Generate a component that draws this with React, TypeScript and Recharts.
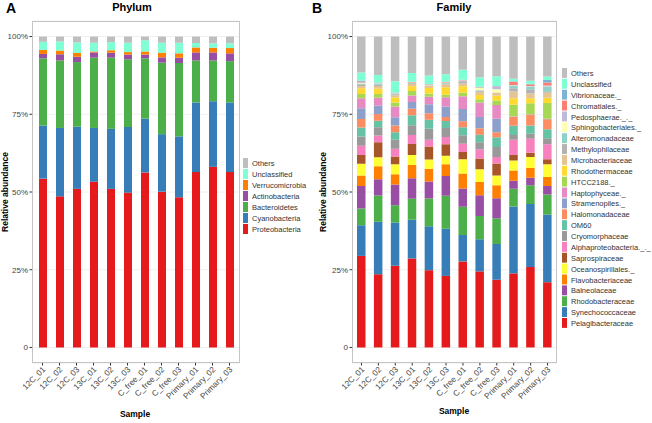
import React from 'react';
import { BarChart, Bar, XAxis, YAxis, CartesianGrid } from 'recharts';

const FONT = '"Liberation Sans", Arial, sans-serif';
const H = 423;

const samples = ['12C_01', '12C_02', '12C_03', '13C_01', '13C_02', '13C_03', 'C_free_01', 'C_free_02', 'C_free_03', 'Primary_01', 'Primary_02', 'Primary_03'];

// ---- Phylum (panel A), values in %
const proteobacteria = [54.3, 48.6, 51.0, 53.3, 51.0, 49.8, 56.3, 50.1, 48.3, 56.4, 58.1, 56.4];
const cyanobacteria = [17.1, 22.0, 20.0, 17.3, 19.3, 21.1, 17.3, 18.5, 19.6, 22.4, 21.1, 22.4];
const bacteroidetes = [21.6, 21.7, 20.8, 22.6, 22.9, 21.8, 19.4, 23.0, 23.6, 13.5, 13.1, 13.3];
const actinobacteria = [1.4, 2.0, 1.7, 1.7, 1.6, 1.5, 1.2, 1.7, 1.7, 2.6, 2.6, 2.5];
const verrucomicrobia = [1.3, 1.2, 1.2, 0.3, 0.8, 0.8, 1.0, 1.5, 1.4, 1.6, 1.5, 1.7];
const phylumUnclassified = [2.6, 2.9, 3.4, 2.8, 2.6, 3.0, 3.6, 3.2, 3.4, 1.4, 1.4, 1.5];
const phylumOthers = [1.7, 1.6, 1.9, 2.0, 1.8, 2.0, 1.2, 2.0, 2.0, 2.1, 2.2, 2.2];

const phylumNames = ['Proteobacteria', 'Cyanobacteria', 'Bacteroidetes', 'Actinobacteria', 'Verrucomicrobia', 'Unclassified', 'Others'];
const phylumColors = ['#E41A1C', '#377EB8', '#4DAF4A', '#984EA3', '#FF7F00', '#7FFFD4', '#BEBEBE'];
const phylumSeries = [proteobacteria, cyanobacteria, bacteroidetes, actinobacteria, verrucomicrobia, phylumUnclassified, phylumOthers];

// ---- Family (panel B), values in %
const pelagibacteraceae = [29.5, 23.6, 26.3, 28.7, 24.8, 23.1, 27.7, 24.5, 21.8, 23.9, 25.9, 20.9];
const synechococcaceae = [9.9, 16.9, 13.9, 12.5, 14.1, 15.2, 8.5, 10.3, 11.5, 21.6, 20.3, 21.7];
const rhodobacteraceae = [5.4, 8.5, 5.6, 6.8, 8.9, 10.7, 9.1, 7.5, 8.3, 5.7, 6.0, 6.4];
const balneolaceae = [7.2, 5.2, 6.7, 6.6, 5.5, 6.4, 5.9, 6.7, 6.4, 2.6, 2.4, 2.7];
const flavobacteriaceae = [3.4, 4.2, 3.3, 4.3, 4.1, 3.8, 4.8, 4.3, 4.2, 3.3, 3.2, 2.9];
const oceanospirillales = [3.8, 2.9, 3.2, 3.2, 2.9, 2.7, 4.6, 4.1, 3.2, 3.2, 3.5, 4.1];
const saprospiraceae = [2.8, 4.8, 2.5, 3.5, 4.2, 3.7, 2.3, 3.4, 3.8, 1.8, 1.4, 1.6];
const alphaproteobacteria = [3.0, 2.2, 2.5, 2.9, 2.2, 2.4, 2.7, 3.0, 2.1, 4.9, 4.5, 4.8];
const cryomorphaceae = [3.0, 2.7, 2.9, 3.2, 3.5, 2.9, 2.7, 2.3, 3.2, 1.5, 1.6, 1.9];
const om60 = [2.9, 2.1, 2.4, 3.2, 2.9, 2.2, 2.6, 2.4, 3.2, 3.0, 2.7, 2.9];
const halomonadaceae = [2.7, 2.1, 2.2, 2.1, 2.1, 1.3, 1.9, 2.1, 1.6, 2.9, 3.4, 3.2];
const stramenopiles = [3.5, 2.8, 2.6, 2.2, 2.9, 3.4, 4.0, 3.6, 4.3, 0.1, 0.1, 0.1];
const haptophyceae = [3.2, 2.5, 3.5, 2.1, 2.4, 3.0, 4.1, 4.7, 4.5, 0.1, 0.1, 0.1];
const htcc2188 = [1.4, 1.2, 1.3, 1.4, 1.0, 0.8, 1.1, 1.0, 1.4, 3.7, 3.5, 5.0];
const rhodothermaceae = [1.8, 1.7, 1.6, 1.6, 1.8, 2.4, 2.1, 1.4, 1.5, 2.1, 1.6, 1.7];
const microbacteriaceae = [0.8, 0.9, 0.7, 0.7, 0.6, 0.9, 0.9, 1.0, 0.9, 2.2, 1.6, 1.6];
const methylophilaceae = [0.5, 0.4, 0.3, 0.2, 0.2, 0.3, 0.7, 0.3, 0.1, 1.0, 1.3, 0.5];
const alteromonadaceae = [0.3, 0.3, 0.2, 0.1, 0.1, 0.2, 0.1, 0.2, 0.1, 0.9, 0.8, 1.4];
const sphingobacteriales = [0.1, 0.1, 0.1, 0.1, 0.1, 0.1, 0.1, 0.8, 1.0, 0.1, 0.1, 0.1];
const pedosphaerae = [0.3, 0.1, 0.1, 0.1, 0.1, 0.1, 0.1, 0.1, 0.9, 0.1, 0.2, 0.3];
const chromatiales = [0.2, 0.1, 0.1, 0.1, 0.1, 0.1, 0.1, 0.1, 0.1, 1.0, 0.5, 1.0];
const vibrionaceae = [0.3, 0.1, 0.1, 0.1, 0.1, 0.1, 0.1, 0.1, 0.1, 0.2, 0.2, 0.8];
const familyUnclassified = [2.6, 2.4, 3.6, 2.8, 2.7, 2.4, 3.2, 3.1, 3.1, 0.8, 1.0, 1.1];
const familyOthers = [11.6, 12.4, 14.4, 11.8, 12.5, 12.2, 10.7, 13.1, 12.8, 13.6, 14.2, 12.8];

const familyNames = [
  'Pelagibacteraceae', 'Synechococcaceae', 'Rhodobacteraceae', 'Balneolaceae', 'Flavobacteriaceae',
  'Oceanospirillales._', 'Saprospiraceae', 'Alphaproteobacteria._._', 'Cryomorphaceae', 'OM60',
  'Halomonadaceae', 'Stramenopiles._', 'Haptophyceae._', 'HTCC2188._', 'Rhodothermaceae',
  'Microbacteriaceae', 'Methylophilaceae', 'Alteromonadaceae', 'Sphingobacteriales._', 'Pedosphaerae._._',
  'Chromatiales._', 'Vibrionaceae._', 'Unclassified', 'Others',
];
const familyColors = [
  '#E41A1C', '#377EB8', '#4DAF4A', '#984EA3', '#FF7F00', '#FFFF33', '#A65628', '#F781BF', '#999999',
  '#66C2A5', '#FC8D62', '#8DA0CB', '#E78AC3', '#A6D854', '#FFD92F', '#E5C494', '#B3B3B3',
  '#8DD3C7', '#FFFFB3', '#BEBADA', '#FB8072', '#80B1D3', '#7FFFD4', '#BEBEBE',
];
const familySeries = [
  pelagibacteraceae, synechococcaceae, rhodobacteraceae, balneolaceae, flavobacteriaceae,
  oceanospirillales, saprospiraceae, alphaproteobacteria, cryomorphaceae, om60,
  halomonadaceae, stramenopiles, haptophyceae, htcc2188, rhodothermaceae,
  microbacteriaceae, methylophilaceae, alteromonadaceae, sphingobacteriales, pedosphaerae,
  chromatiales, vibrionaceae, familyUnclassified, familyOthers,
];

// relative abundance: each sample scaled to its own total
const toRows = (names: string[], series: number[][]) =>
  samples.map((s, i) => {
    const total = series.reduce((a, v) => a + v[i], 0);
    const row: Record<string, string | number> = { sample: s };
    names.forEach((n, k) => {
      row[n] = series[k][i] / total;
    });
    return row;
  });

const pct = (v: number) => (v === 0 ? '0' : `${Math.round(v * 100)}%`);

const SampleTick = (props: any) => {
  const { x, y, payload } = props;
  return (
    <text
      transform={`translate(${x + 3.5},${y + 3.5}) rotate(-45)`}
      textAnchor="end"
      fontSize={8.2}
      fontFamily={FONT}
      fill="#444"
    >
      {payload.value}
    </text>
  );
};

const KeyList = ({ names, colors, step, x, y }: { names: string[]; colors: string[]; step: number; x: number; y: number }) => {
  const items = names.map((n, k) => ({ n, c: colors[k] })).reverse();
  return (
    <svg width={95} height={items.length * step + 2} style={{ position: 'absolute', left: x, top: y, display: 'block' }}>
      {items.map((it, i) => (
        <g key={it.n}>
          <rect x={0} y={i * step} width={5} height={step - 1} fill={it.c} />
          <text x={9} y={i * step + step / 2 + 2.6} fontSize={7.5} fontFamily={FONT} fill="#333">
            {it.n}
          </text>
        </g>
      ))}
    </svg>
  );
};

type PanelProps = {
  left: number;
  width: number;
  plotRight: number;
  names: string[];
  colors: string[];
  series: number[][];
  barSize: number;
  pad: number;
  legendX: number;
  legendY: number;
  legendStep: number;
};

const Panel = ({ left, width, plotRight, names, colors, series, barSize, pad, legendX, legendY, legendStep }: PanelProps) => {
  const rows = toRows(names, series);
  return (
    <div style={{ position: 'absolute', left, top: 0, width, height: H }}>
      <BarChart width={width} height={H} data={rows} margin={{ top: 21, right: width - plotRight, bottom: 0, left: 0 }}>
        <CartesianGrid vertical={false} stroke="#f0f0f0" />
        <XAxis
          dataKey="sample"
          height={60}
          interval={0}
          padding={{ left: pad, right: pad }}
          axisLine={false}
          tickLine={{ stroke: '#333' }}
          tickSize={2.5}
          tickMargin={1}
          tick={(p: any) => <SampleTick {...p} />}
        />
        <YAxis
          width={32}
          type="number"
          domain={[-0.05, 1.05]}
          allowDataOverflow
          ticks={[0, 0.25, 0.5, 0.75, 1]}
          tickFormatter={pct}
          axisLine={false}
          tickLine={{ stroke: '#333' }}
          tickSize={2.5}
          tickMargin={1.5}
          tick={{ fontSize: 8, fill: '#444', fontFamily: FONT }}
        />
        {names.map((n, k) => (
          <Bar key={n} dataKey={n} stackId="s" fill={colors[k]} barSize={barSize} isAnimationActive={false} />
        ))}
      </BarChart>
      <div
        style={{
          position: 'absolute',
          left: 32,
          top: 21,
          width: plotRight - 32,
          height: 342,
          border: '1px solid #c4c4c4',
          boxSizing: 'border-box',
          pointerEvents: 'none',
        }}
      />
      <KeyList names={names} colors={colors} step={legendStep} x={legendX} y={legendY} />
    </div>
  );
};

export default function App() {
  return (
    <div style={{ position: 'absolute', left: 0, top: 0, width: 652, height: H, background: '#fff', fontFamily: FONT }}>
      <Panel
        left={0}
        width={326}
        plotRight={240}
        names={phylumNames}
        colors={phylumColors}
        series={phylumSeries}
        barSize={8}
        pad={2}
        legendX={243}
        legendY={158}
        legendStep={11}
      />
      <Panel
        left={320}
        width={332}
        plotRight={237}
        names={familyNames}
        colors={familyColors}
        series={familySeries}
        barSize={8.5}
        pad={1}
        legendX={241.5}
        legendY={67.5}
        legendStep={10.87}
      />
      <svg width={652} height={H} style={{ position: 'absolute', left: 0, top: 0, pointerEvents: 'none' }}>
        <text x={6} y={13} fontSize={14} fontWeight="bold" fontFamily={FONT} fill="#000">A</text>
        <text x={132} y={11} fontSize={11} fontWeight="bold" fontFamily={FONT} fill="#000" textAnchor="middle">Phylum</text>
        <text x={312} y={13} fontSize={14} fontWeight="bold" fontFamily={FONT} fill="#000">B</text>
        <text x={454} y={11} fontSize={11} fontWeight="bold" fontFamily={FONT} fill="#000" textAnchor="middle">Family</text>
        <text transform="translate(8,192) rotate(-90)" fontSize={8.5} fontWeight="bold" fontFamily={FONT} textAnchor="middle" fill="#000">Relative abundance</text>
        <text transform="translate(325.5,192) rotate(-90)" fontSize={8.5} fontWeight="bold" fontFamily={FONT} textAnchor="middle" fill="#000">Relative abundance</text>
        <text x={135} y={417} fontSize={8.5} fontWeight="bold" fontFamily={FONT} textAnchor="middle" fill="#000">Sample</text>
        <text x={454} y={414} fontSize={8.5} fontWeight="bold" fontFamily={FONT} textAnchor="middle" fill="#000">Sample</text>
      </svg>
    </div>
  );
}
